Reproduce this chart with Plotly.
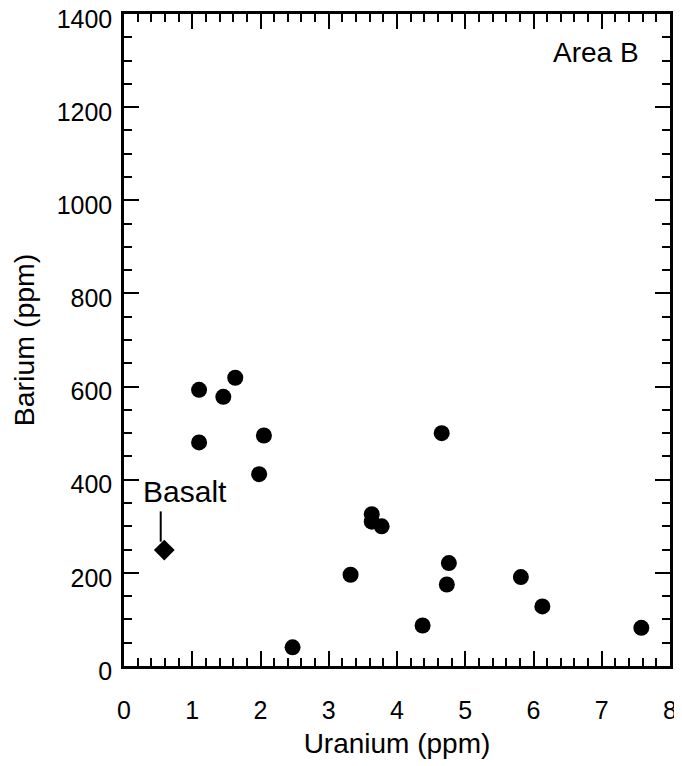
import plotly.graph_objects as go

# Data
uranium = [1.10, 1.10, 1.455, 1.63, 1.98, 2.05, 2.47, 3.32, 3.63, 3.63, 3.775,
           4.375, 4.655, 4.73, 4.76, 5.815, 6.13, 7.58]
barium = [593, 480, 578, 619, 412, 495, 40, 196, 326, 310, 300,
          87, 500, 175, 221, 191, 128, 82]

basalt_u = [0.59]
basalt_ba = [249]

x_ticks = list(range(0, 9))
y_ticks = list(range(0, 1401, 200))

FONT = "Liberation Sans, Arial, Helvetica, sans-serif"

fig = go.Figure()
fig.add_trace(go.Scatter(
    x=uranium, y=barium, mode="markers",
    marker=dict(symbol="circle", size=16, color="black", line=dict(width=0)),
    showlegend=False, hoverinfo="x+y"))
fig.add_trace(go.Scatter(
    x=basalt_u, y=basalt_ba, mode="markers",
    marker=dict(symbol="diamond", size=16, color="black", line=dict(width=0)),
    showlegend=False, hoverinfo="x+y"))

# Basalt label with a plain pointer line
fig.add_shape(type="line", x0=0.538, x1=0.538, y0=267, y1=332,
              xref="x", yref="y", line=dict(color="black", width=2))
fig.add_annotation(x=0.894, y=374, xref="x", yref="y", text="Basalt",
                   showarrow=False, font=dict(size=30, color="black", family=FONT))
fig.add_annotation(x=6.92, y=1318, xref="x", yref="y", text="Area B",
                   showarrow=False, font=dict(size=28, color="black", family=FONT))

axis_common = dict(
    showgrid=False, zeroline=False, showline=True, linecolor="black", linewidth=2.5,
    mirror="allticks", ticks="inside", ticklen=15, tickwidth=2, tickcolor="black",
    tickfont=dict(size=25, color="black", family=FONT), automargin=False,
    ticklabeloverflow="allow",
)

fig.update_xaxes(
    range=[0, 8], tickvals=x_ticks, ticktext=[str(v) for v in x_ticks],
    minor=dict(dtick=0.2, ticks="inside", ticklen=8, tickwidth=2, tickcolor="black"),
    title=dict(text="Uranium (ppm)", font=dict(size=28, color="black", family=FONT), standoff=11),
    ticklabelstandoff=20,
    **axis_common)
fig.update_yaxes(
    range=[0, 1400], tickvals=y_ticks, ticktext=[str(v) for v in y_ticks],
    minor=dict(dtick=50, ticks="inside", ticklen=8, tickwidth=2, tickcolor="black"),
    title=dict(text="Barium (ppm)", font=dict(size=28.5, color="black", family=FONT), standoff=18),
    ticklabelstandoff=4, ticklabelshift=5,
    **axis_common)

# The page body adds an 8px offset, so the figure is sized to fit the window.
fig.update_layout(
    width=674, height=758,
    margin=dict(l=116, r=12, t=6, b=100),
    plot_bgcolor="white", paper_bgcolor="white",
    font=dict(family=FONT, color="black"),
)

fig.write_html("out.html")
